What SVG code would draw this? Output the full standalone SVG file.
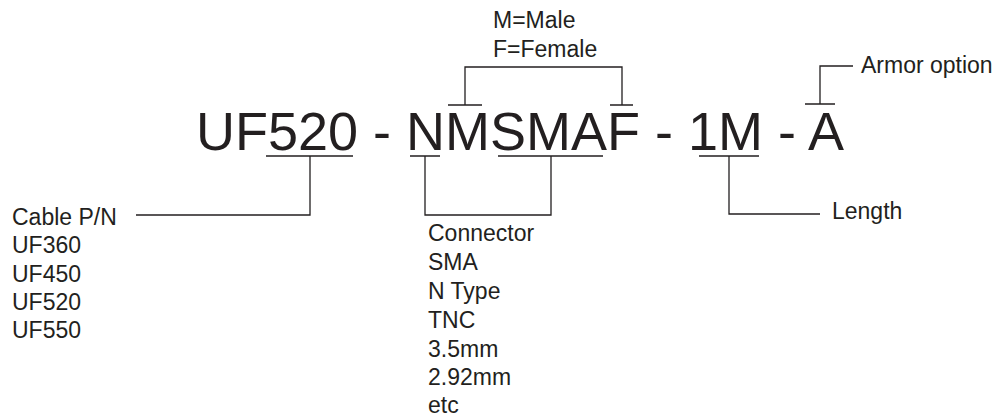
<svg xmlns="http://www.w3.org/2000/svg" width="1000" height="417" viewBox="0 0 1000 417">
<style>
.main{font-family:"Liberation Sans",Arial,sans-serif;font-size:54px;fill:#231f20}
.lbl{font-family:"Liberation Sans",Arial,sans-serif;font-size:23px;fill:#231f20}
.c{fill:none;stroke:#231f20;stroke-width:1.3}
</style>
<rect width="1000" height="417" fill="#fff"/>
<g id="code"><text class="main" x="196" y="150" xml:space="preserve">UF520 - NMSMAF - 1M - A</text></g>
<g id="gender"><text class="lbl" x="493" y="28">M=Male</text><text class="lbl" x="493" y="57">F=Female</text></g>
<g id="armor"><text class="lbl" x="861" y="73">Armor option</text></g>
<g id="length"><text class="lbl" x="832" y="219">Length</text></g>
<g id="cable"><text class="lbl" x="12" y="225">Cable P/N</text><text class="lbl" x="12" y="253">UF360</text><text class="lbl" x="12" y="282">UF450</text><text class="lbl" x="12" y="310">UF520</text><text class="lbl" x="12" y="338">UF550</text></g>
<g id="connector"><text class="lbl" x="428" y="241">Connector</text><text class="lbl" x="428" y="270">SMA</text><text class="lbl" x="428" y="299">N Type</text><text class="lbl" x="428" y="328">TNC</text><text class="lbl" x="428" y="357">3.5mm</text><text class="lbl" x="428" y="385">2.92mm</text><text class="lbl" x="428" y="413">etc</text></g>
<g id="connectors">
<path class="c" d="M266 156H353M310 156V215H136"/>
<path class="c" d="M410 156H440M425 156V215H551V156M498 156H603"/>
<path class="c" d="M448 105H482M465 105V67H622V105M610 105H633"/>
<path class="c" d="M699 156H759M729 156V214H820"/>
<path class="c" d="M805 104H835M820 104V66H853"/>
</g>
</svg>
